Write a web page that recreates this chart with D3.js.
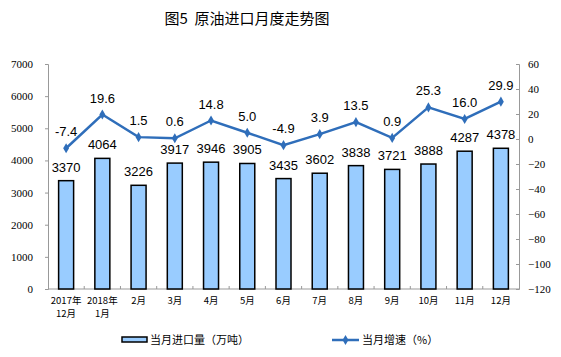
<!DOCTYPE html>
<html><head><meta charset="utf-8">
<script src="https://cdn.jsdelivr.net/npm/d3@7"></script>
<style>body{margin:0;background:#fff}svg{display:block}</style>
</head><body>
<svg id="c" width="561" height="357"></svg>
<script>
const categories = ["2017年|12月","2018年|1月","2月","3月","4月","5月","6月","7月","8月","9月","10月","11月","12月"];
const imports = [3370,4064,3226,3917,3946,3905,3435,3602,3838,3721,3888,4287,4378];
const growth = [-7.4,19.6,1.5,0.6,14.8,5.0,-4.9,3.9,13.5,0.9,25.3,16.0,29.9];
const leftTicks = [0,1000,2000,3000,4000,5000,6000,7000];
const rightTicks = [-120,-100,-80,-60,-40,-20,0,20,40,60];

const svg = d3.select("#c");
const L = 48, R = 519, T = 64, B = 289;
const x = d3.scaleBand().domain(categories).range([L, R]).paddingInner(0).paddingOuter(0);
const yL = d3.scaleLinear().domain([0,7000]).range([B,T]);
const yR = d3.scaleLinear().domain([-120,60]).range([B,T]);
const serif = "'Liberation Serif','Times New Roman',serif";
const sans = "'Liberation Sans',Arial,sans-serif";
const cjk = "'Noto Sans CJK SC',sans-serif";

svg.append("text").attr("x",247).attr("y",24).attr("text-anchor","middle")
  .attr("font-family",cjk).attr("font-size",15).attr("fill","#000")
  .style("white-space","pre")
  .text("图5\u00a0\u00a0原油进口月度走势图");

// left axis
const gl = svg.append("g").attr("transform",`translate(${L},0)`)
  .call(d3.axisLeft(yL).tickValues(leftTicks).tickFormat(d3.format("d")).tickSize(3).tickPadding(12));
gl.select(".domain").attr("stroke","#999");
gl.selectAll(".tick line").attr("stroke","#999");
gl.selectAll("text").attr("font-family",serif).attr("font-size",11).attr("fill","#000");

// right axis
const gr = svg.append("g").attr("transform",`translate(${R},0)`)
  .call(d3.axisRight(yR).tickValues(rightTicks).tickFormat(d3.format("d")).tickSize(-3).tickPadding(9));
gr.select(".domain").attr("stroke","#999");
gr.selectAll(".tick line").attr("stroke","#999");
gr.selectAll("text").attr("font-family",serif).attr("font-size",11).attr("fill","#000");

// bottom axis
svg.append("line").attr("x1",L).attr("x2",R).attr("y1",B).attr("y2",B).attr("stroke","#999");
svg.append("g").selectAll("line").data(categories.slice(1)).join("line")
  .attr("x1",d=>x(d)).attr("x2",d=>x(d)).attr("y1",B).attr("y2",B-3).attr("stroke","#999");

const xl = svg.append("g").selectAll("text").data(categories).join("text")
  .attr("x",d=>x(d)+x.bandwidth()/2).attr("y",304).attr("text-anchor","middle")
  .attr("font-family",cjk).attr("font-size",9.5).attr("fill","#000");
xl.each(function(d){
  const parts = d.split("|");
  const t = d3.select(this);
  parts.forEach((p,i)=>t.append("tspan").attr("x",x(d)+x.bandwidth()/2).attr("dy",i?13:0).text(p));
});

// bars
const bw = 15;
svg.append("g").selectAll("rect").data(imports).join("rect")
  .attr("x",(d,i)=>x(categories[i])+x.bandwidth()/2-bw/2)
  .attr("y",d=>yL(d)).attr("width",bw).attr("height",d=>B-yL(d))
  .attr("fill","#99CCFF").attr("stroke","#000").attr("stroke-width",1.5);
svg.append("g").selectAll("text").data(imports).join("text")
  .attr("x",(d,i)=>x(categories[i])+x.bandwidth()/2).attr("y",d=>yL(d)-9)
  .attr("text-anchor","middle").attr("font-family",sans).attr("font-size",13).attr("fill","#000")
  .text(d=>d);

// line
const lc = "#2F6EBA";
const line = d3.line().x((d,i)=>x(categories[i])+x.bandwidth()/2).y(d=>yR(d));
svg.append("path").datum(growth).attr("d",line).attr("fill","none").attr("stroke",lc).attr("stroke-width",2.5);
svg.append("g").selectAll("path").data(growth).join("path")
  .attr("d",d3.symbol(d3.symbolDiamond,30))
  .attr("transform",(d,i)=>`translate(${x(categories[i])+x.bandwidth()/2},${yR(d)})`)
  .attr("fill",lc);
svg.append("g").selectAll("text").data(growth).join("text")
  .attr("x",(d,i)=>x(categories[i])+x.bandwidth()/2).attr("y",d=>yR(d)-12)
  .attr("text-anchor","middle").attr("font-family",sans).attr("font-size",13).attr("fill","#000")
  .text(d=>d.toFixed(1));

// legend
svg.append("rect").attr("x",122).attr("y",337).attr("width",25).attr("height",5)
  .attr("fill","#99CCFF").attr("stroke","#000").attr("stroke-width",1.5);
svg.append("text").attr("x",150).attr("y",344).attr("font-family",cjk).attr("font-size",11).attr("fill","#000")
  .text("当月进口量（万吨）");
svg.append("line").attr("x1",332).attr("x2",359).attr("y1",340).attr("y2",340).attr("stroke",lc).attr("stroke-width",2.5);
svg.append("path").attr("d",d3.symbol(d3.symbolDiamond,30)).attr("transform","translate(345.5,340)").attr("fill",lc);
svg.append("text").attr("x",362).attr("y",344).attr("font-family",cjk).attr("font-size",11).attr("fill","#000")
  .text("当月增速（%）");
</script>
</body></html>
